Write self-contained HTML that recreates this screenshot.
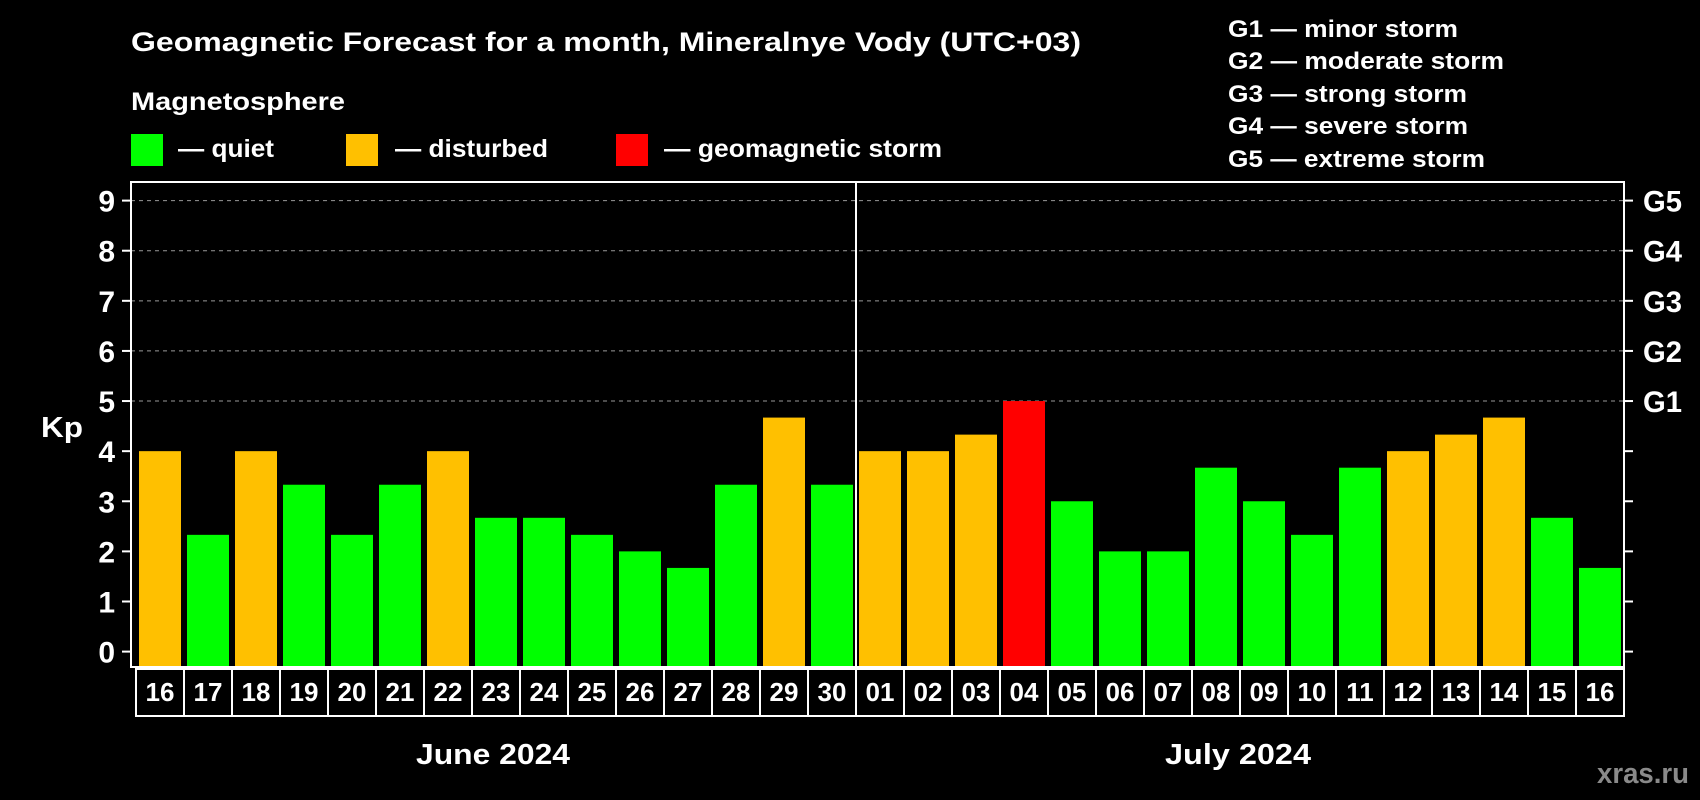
<!DOCTYPE html>
<html><head><meta charset="utf-8"><style>
html,body{margin:0;padding:0;background:#000;}
svg{display:block;font-family:"Liberation Sans",Arial,sans-serif;font-weight:bold;}
</style></head><body>
<svg id="chart" width="1700" height="800" viewBox="0 0 1700 800">
<rect x="0" y="0" width="1700" height="800" fill="#000"/>
<text x="131" y="51" fill="#fff" font-size="27" textLength="950" lengthAdjust="spacingAndGlyphs">Geomagnetic Forecast for a month, Mineralnye Vody (UTC+03)</text>
<text x="131" y="110" fill="#fff" font-size="25" textLength="214" lengthAdjust="spacingAndGlyphs">Magnetosphere</text>
<g><rect x="131" y="134" width="32" height="32" fill="#00ff00"/><text x="178" y="157" fill="#fff" font-size="25" textLength="96" lengthAdjust="spacingAndGlyphs">— quiet</text></g>
<g><rect x="346" y="134" width="32" height="32" fill="#ffc000"/><text x="395" y="157" fill="#fff" font-size="25" textLength="153" lengthAdjust="spacingAndGlyphs">— disturbed</text></g>
<g><rect x="616" y="134" width="32" height="32" fill="#ff0000"/><text x="664" y="157" fill="#fff" font-size="25" textLength="278" lengthAdjust="spacingAndGlyphs">— geomagnetic storm</text></g>
<g fill="#fff" font-size="24">
<text x="1228" y="37" textLength="230" lengthAdjust="spacingAndGlyphs">G1 — minor storm</text>
<text x="1228" y="69" textLength="276" lengthAdjust="spacingAndGlyphs">G2 — moderate storm</text>
<text x="1228" y="102" textLength="239" lengthAdjust="spacingAndGlyphs">G3 — strong storm</text>
<text x="1228" y="134" textLength="240" lengthAdjust="spacingAndGlyphs">G4 — severe storm</text>
<text x="1228" y="167" textLength="257" lengthAdjust="spacingAndGlyphs">G5 — extreme storm</text>
</g>
<text x="41" y="437" fill="#fff" font-size="29" textLength="42" lengthAdjust="spacingAndGlyphs">Kp</text>
<g id="grid"></g><g id="bars"></g><g id="axes"></g>
<text x="416" y="764" fill="#fff" font-size="29" textLength="154" lengthAdjust="spacingAndGlyphs">June 2024</text>
<text x="1165" y="764" fill="#fff" font-size="29" textLength="146" lengthAdjust="spacingAndGlyphs">July 2024</text>
<text x="1597" y="783" fill="#8a8a8a" font-size="29" textLength="92" lengthAdjust="spacingAndGlyphs">xras.ru</text>
</svg>
<script>
const days = ["16","17","18","19","20","21","22","23","24","25","26","27","28","29","30","01","02","03","04","05","06","07","08","09","10","11","12","13","14","15","16"];
const kpValues = [4,2.33,4,3.33,2.33,3.33,4,2.67,2.67,2.33,2,1.67,3.33,4.67,3.33,4,4,4.33,5,3,2,2,3.67,3,2.33,3.67,4,4.33,4.67,2.67,1.67];
const levels = ["d","q","d","q","q","q","d","q","q","q","q","q","q","d","q","d","d","d","s","q","q","q","q","q","q","q","d","d","d","q","q"];
const yTicks = [0,1,2,3,4,5,6,7,8,9];
const gLabels = ["","","","","","G1","G2","G3","G4","G5"];
const monthSplit = 15;

const NS="http://www.w3.org/2000/svg";
const L=131,R=1624,T=182,B=667;
const y0=651.6, unit=(651.6-200.6)/9;
const slot=48, x0=139, bw=42;
const yS=v=>y0-v*unit;
const xS=i=>x0+i*slot;
const colors={q:"#00ff00",d:"#ffc000",s:"#ff0000"};
function mk(tag,a,p){const e=document.createElementNS(NS,tag);for(const k in a)e.setAttribute(k,a[k]);p.appendChild(e);return e;}
const grid=document.getElementById('grid'),bars=document.getElementById('bars'),axes=document.getElementById('axes');
yTicks.forEach((v,i)=>{
  if(v>=5){const g=mk('line',{x1:L,x2:R,y1:yS(v),y2:yS(v),stroke:'#999','stroke-width':1,'stroke-dasharray':'4,4'},grid);
  
  }
  const t1=mk('line',{x1:L-9,x2:L,y1:yS(v),y2:yS(v),stroke:'#fff','stroke-width':2},axes);
  
  
  const t2=mk('line',{x1:R,x2:R+9,y1:yS(v),y2:yS(v),stroke:'#fff','stroke-width':2},axes);
  
  
  const tl=mk('text',{x:115,y:yS(v)+11,fill:'#fff','font-size':30,'text-anchor':'end'},axes);tl.textContent=v;
  
  
  if(gLabels[i]){const gl=mk('text',{x:1643,y:yS(v)+11,fill:'#fff','font-size':30,textLength:39,lengthAdjust:'spacingAndGlyphs'},axes);gl.textContent=gLabels[i];
  
  }
});
kpValues.forEach((v,i)=>{
  const b=mk('rect',{x:xS(i),y:yS(v),width:bw,height:B-yS(v),fill:colors[levels[i]]},bars);
  
  
  const bx=mk('rect',{x:xS(i)-3,y:669,width:slot,height:47,fill:'none',stroke:'#fff','stroke-width':2},axes);
  
  
  const dt=mk('text',{x:xS(i)+bw/2,y:701,fill:'#fff','font-size':26,'text-anchor':'middle'},axes);dt.textContent=days[i];
  
  
});
const fr=mk('rect',{x:L,y:T,width:R-L,height:B-T,fill:'none',stroke:'#fff','stroke-width':2},axes);


const sx=xS(monthSplit)-3;
const sp=mk('line',{x1:sx,x2:sx,y1:T,y2:B,stroke:'#fff','stroke-width':2},axes);


</script>
</body></html>
